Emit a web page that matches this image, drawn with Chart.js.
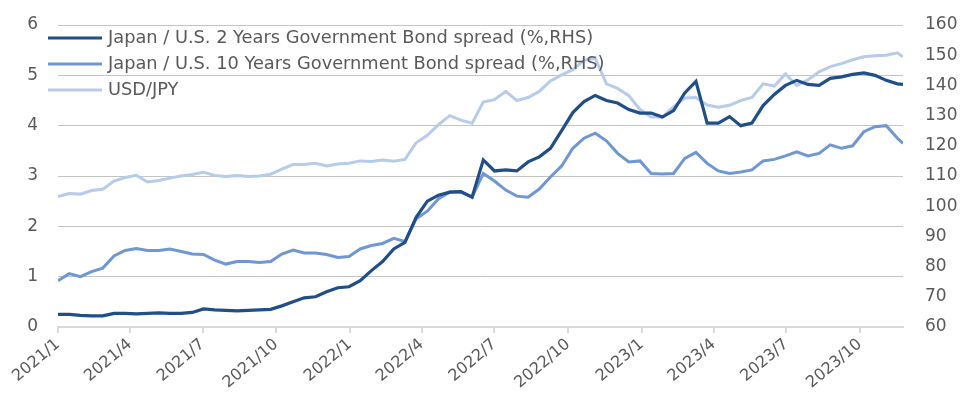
<!DOCTYPE html>
<html>
<head>
<meta charset="utf-8">
<script src="https://cdn.jsdelivr.net/npm/chart.js@4.4.0/dist/chart.umd.min.js"></script>
<style>
  html, body { margin: 0; padding: 0; background: #fff; }
  #wrap { width: 961px; height: 394px; position: relative; }
</style>
</head>
<body>
<div id="wrap"><canvas id="myChart"></canvas></div>
<script>
// biweekly observations (Fridays), last one is the latest week
var dates = [
  "2021-01-01", "2021-01-15", "2021-01-29", "2021-02-12", "2021-02-26", "2021-03-12", "2021-03-26",
  "2021-04-09", "2021-04-23", "2021-05-07", "2021-05-21", "2021-06-04", "2021-06-18", "2021-07-02",
  "2021-07-16", "2021-07-30", "2021-08-13", "2021-08-27", "2021-09-10", "2021-09-24", "2021-10-08",
  "2021-10-22", "2021-11-05", "2021-11-19", "2021-12-03", "2021-12-17", "2021-12-31",
  "2022-01-14", "2022-01-28", "2022-02-11", "2022-02-25", "2022-03-11", "2022-03-25", "2022-04-08",
  "2022-04-22", "2022-05-06", "2022-05-20", "2022-06-03", "2022-06-17", "2022-07-01", "2022-07-15",
  "2022-07-29", "2022-08-12", "2022-08-26", "2022-09-09", "2022-09-23", "2022-10-07", "2022-10-21",
  "2022-11-04", "2022-11-18", "2022-12-02", "2022-12-16", "2022-12-30",
  "2023-01-13", "2023-01-27", "2023-02-10", "2023-02-24", "2023-03-10", "2023-03-24", "2023-04-07",
  "2023-04-21", "2023-05-05", "2023-05-19", "2023-06-02", "2023-06-16", "2023-06-30", "2023-07-14",
  "2023-07-28", "2023-08-11", "2023-08-25", "2023-09-08", "2023-09-22", "2023-10-06", "2023-10-20",
  "2023-11-03", "2023-11-17", "2023-11-24"
];

var spread2y = [
  0.25, 0.25, 0.23, 0.22, 0.22, 0.27, 0.27, 0.26, 0.27, 0.28,
  0.27, 0.27, 0.29, 0.36, 0.34, 0.33, 0.32, 0.33, 0.34, 0.35,
  0.42, 0.50, 0.58, 0.60, 0.70, 0.78, 0.80, 0.92, 1.12, 1.30,
  1.55, 1.68, 2.18, 2.50, 2.62, 2.68, 2.69, 2.58, 3.32, 3.10,
  3.12, 3.10, 3.28, 3.38, 3.55, 3.90, 4.26, 4.48, 4.60, 4.50,
  4.45, 4.32, 4.25, 4.25, 4.17, 4.30, 4.65, 4.88, 4.05, 4.05,
  4.18, 4.00, 4.05, 4.40, 4.62, 4.80, 4.90, 4.82, 4.80, 4.94,
  4.97, 5.02, 5.05, 5.00, 4.90, 4.83, 4.82
];

var spread10y = [
  0.92, 1.06, 1.00, 1.10, 1.17, 1.41, 1.52, 1.56, 1.52, 1.52,
  1.55, 1.50, 1.45, 1.44, 1.33, 1.25, 1.30, 1.30, 1.28, 1.30,
  1.45, 1.53, 1.47, 1.47, 1.44, 1.38, 1.40, 1.55, 1.62, 1.66,
  1.76, 1.70, 2.15, 2.30, 2.55, 2.68, 2.68, 2.58, 3.05, 2.90,
  2.72, 2.60, 2.58, 2.74, 2.98, 3.20, 3.55, 3.75, 3.85, 3.70,
  3.45, 3.28, 3.30, 3.05, 3.04, 3.05, 3.35, 3.47, 3.25, 3.10,
  3.05, 3.08, 3.12, 3.30, 3.33, 3.40, 3.48, 3.40, 3.45, 3.62,
  3.55, 3.60, 3.88, 3.98, 4.00, 3.75, 3.65
];

var usdjpy = [
  103.2, 104.2, 104.0, 105.2, 105.6, 108.3, 109.5, 110.2, 108.0, 108.5,
  109.3, 110.0, 110.5, 111.2, 110.2, 109.8, 110.2, 109.8, 110.0, 110.6,
  112.3, 113.8, 113.8, 114.2, 113.3, 114.0, 114.2, 115.0, 114.8, 115.3,
  114.9, 115.5, 121.0, 123.5, 127.0, 130.0, 128.5, 127.5, 134.5, 135.3,
  138.0, 135.0, 136.0, 138.0, 141.5, 143.5, 145.2, 148.3, 149.0, 140.5,
  139.0, 136.6, 132.0, 129.5, 129.5, 133.0, 135.8, 136.0, 133.5, 132.8,
  133.4, 135.0, 136.0, 140.5, 139.8, 143.8, 140.0, 141.8, 144.5, 146.2,
  147.2, 148.5, 149.5, 149.8, 150.0, 150.8, 149.5
];

var quarterLabels = [
  "2021/1", "2021/4", "2021/7", "2021/10",
  "2022/1", "2022/4", "2022/7", "2022/10",
  "2023/1", "2023/4", "2023/7", "2023/10"
];

var seriesNames = [
  "Japan / U.S. 2 Years Government Bond spread (%,RHS)",
  "Japan / U.S. 10 Years Government Bond spread (%,RHS)",
  "USD/JPY"
];

var FONT = "DejaVu Sans";
var GREY = "#595959";
var ORIGIN = Date.UTC(2021, 0, 1);

function dayOf(y, m, d) {
  return (Date.UTC(y, m - 1, d) - ORIGIN) / 86400000;
}
function dayOfDate(s) {
  var p = s.split("-");
  return dayOf(+p[0], +p[1], +p[2]);
}
function dayOfQuarter(s) {
  var p = s.split("/");
  return dayOf(+p[0], +p[1], 1);
}

var xDays = dates.map(dayOfDate);
var quarterDays = quarterLabels.map(dayOfQuarter);

function points(values) {
  return values.map(function (v, i) { return { x: xDays[i], y: v }; });
}

// y axes: keep the label padding from pushing the plot area down
function fitY(scale) {
  scale.width = 58;
  scale.paddingTop = 0;
  scale.paddingBottom = 0;
}

var insideLegend = {
  id: "insideLegend",
  afterDatasetsDraw: function (chart) {
    var ctx = chart.ctx;
    var area = chart.chartArea;
    ctx.save();
    ctx.font = "17.8px '" + FONT + "'";
    ctx.fillStyle = GREY;
    ctx.textBaseline = "middle";
    ctx.textAlign = "left";
    chart.data.datasets.forEach(function (ds, i) {
      var y = area.top + 13 + i * 26;
      ctx.strokeStyle = ds.borderColor;
      ctx.lineWidth = 3;
      ctx.beginPath();
      ctx.moveTo(area.left - 10, y);
      ctx.lineTo(area.left + 44, y);
      ctx.stroke();
      ctx.fillText(ds.label, area.left + 50, y);
    });
    ctx.restore();
  }
};

var ctx = document.getElementById("myChart").getContext("2d");
var chart = new Chart(ctx, {
  type: "line",
  data: {
    datasets: [
      {
        label: seriesNames[0],
        data: points(spread2y),
        yAxisID: "y",
        borderColor: "#1f4e89",
        borderWidth: 3.2,
        pointRadius: 0,
        tension: 0
      },
      {
        label: seriesNames[1],
        data: points(spread10y),
        yAxisID: "y",
        borderColor: "#6f97d3",
        borderWidth: 3,
        pointRadius: 0,
        tension: 0
      },
      {
        label: seriesNames[2],
        data: points(usdjpy),
        yAxisID: "y1",
        borderColor: "#b7cbea",
        borderWidth: 3,
        pointRadius: 0,
        tension: 0
      }
    ]
  },
  options: {
    responsive: true,
    maintainAspectRatio: false,
    devicePixelRatio: 1,
    animation: false,
    layout: { padding: { top: 25, left: 0, right: 0, bottom: 0 } },
    plugins: {
      legend: { display: false },
      tooltip: { enabled: false }
    },
    scales: {
      x: {
        type: "linear",
        min: 0,
        max: xDays[xDays.length - 1],
        afterBuildTicks: function (scale) {
          scale.ticks = quarterDays.map(function (d) { return { value: d }; });
        },
        afterFit: function (scale) { scale.height = 67; },
        ticks: {
          autoSkip: false,
          minRotation: 40,
          maxRotation: 40,
          padding: 2,
          color: GREY,
          font: { family: FONT, size: 16 },
          callback: function (value) {
            var k = quarterDays.indexOf(value);
            return k >= 0 ? quarterLabels[k] : "";
          }
        },
        grid: {
          drawOnChartArea: false,
          drawTicks: true,
          tickLength: 6,
          color: "#d9d9d9",
          lineWidth: 2
        },
        border: { display: true, color: "#d9d9d9", width: 2 }
      },
      y: {
        position: "left",
        min: 0,
        max: 6,
        afterFit: fitY,
        ticks: {
          stepSize: 1,
          padding: 20,
          color: GREY,
          font: { family: FONT, size: 17 }
        },
        grid: {
          drawTicks: false,
          lineWidth: 1,
          color: function (c) {
            return c.tick && c.tick.value === 0 ? "rgba(0,0,0,0)" : "#c4c4c4";
          }
        },
        border: { display: false }
      },
      y1: {
        position: "right",
        min: 60,
        max: 160,
        afterFit: fitY,
        ticks: {
          stepSize: 10,
          padding: 22,
          color: GREY,
          font: { family: FONT, size: 17 }
        },
        grid: { display: false, drawTicks: false },
        border: { display: false }
      }
    }
  },
  plugins: [insideLegend]
});
</script>
</body>
</html>
